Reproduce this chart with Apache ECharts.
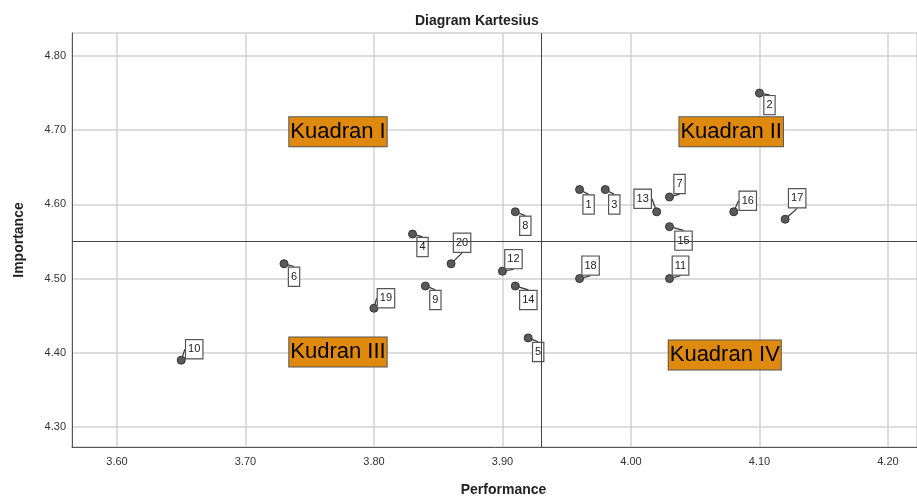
<!DOCTYPE html>
<html>
<head>
<meta charset="utf-8">
<script src="https://cdn.jsdelivr.net/npm/echarts@6/dist/echarts.min.js"></script>
<style>
  html, body { margin: 0; padding: 0; background: #fff; }
  #chart { width: 917px; height: 496px; }
</style>
</head>
<body>
<div id="chart"></div>
<script>
// data
var ids = ['1','2','3','4','5','6','7','8','9','10','11','12','13','14','15','16','17','18','19','20'];
var performance = [3.96, 4.10, 3.98, 3.83, 3.92, 3.73, 4.03, 3.91, 3.84, 3.65, 4.03, 3.90, 4.02, 3.91, 4.03, 4.08, 4.12, 3.96, 3.80, 3.86];
var importance  = [4.62, 4.75, 4.62, 4.56, 4.42, 4.52, 4.61, 4.59, 4.49, 4.39, 4.50, 4.51, 4.59, 4.49, 4.57, 4.59, 4.58, 4.50, 4.46, 4.52];
var meanPerformance = 3.933;
var meanImportance = 4.5465;

var quadrantNames = ['Kuadran I', 'Kuadran II', 'Kudran III', 'Kuadran IV'];
var quadrantX = [3.772, 4.078, 3.772, 4.073];
var quadrantY = [4.698, 4.698, 4.401, 4.397];

// where each number box sits relative to its point (px)
var labelShift = [
  [9,15],[10,12],[9,15],[10,13],[10,14],[10,13],[10,-13],[10,14],[10,14],[13,-11],
  [11,-13],[11,-12],[-14,-13],[13,14],[14,14],[14,-11],[12,-21],[11,-13],[12,-10],[11,-21]
];

var points = ids.map(function (id, i) {
  return { name: id, value: [performance[i], importance[i]] };
});
var quadrants = quadrantNames.map(function (n, i) {
  return { name: n, value: [quadrantX[i], quadrantY[i]] };
});

var fmt = function (v) { return v.toFixed(2); };
var font = 'Arial, "Liberation Sans", sans-serif';

var option = {
  animation: false,
  title: {
    text: 'Diagram Kartesius',
    left: 410,
    top: 9,
    textStyle: { fontFamily: font, fontSize: 14, fontWeight: 'bold', color: '#222' }
  },
  grid: { left: 72, right: 0, top: 33, bottom: 49, containLabel: false, outerBoundsMode: 'none' },
  xAxis: {
    type: 'value',
    min: 3.565,
    max: 4.2226,
    splitNumber: 5,
    name: 'Performance',
    nameLocation: 'middle',
    nameGap: 36,
    nameTextStyle: { fontFamily: font, fontSize: 14, fontWeight: 'bold', color: '#222', padding: [0, 0, 0, 18] },
    axisLine: { show: true, onZero: false, lineStyle: { color: '#555', width: 1 } },
    axisTick: { show: false },
    axisLabel: { formatter: fmt, fontFamily: font, fontSize: 11, color: '#333', margin: 9, showMinLabel: false, showMaxLabel: false },
    splitLine: { show: true, lineStyle: { color: '#d2d2d2', width: 1.5 } }
  },
  yAxis: {
    type: 'value',
    min: 4.273,
    max: 4.831,
    splitNumber: 5,
    name: 'Importance',
    nameLocation: 'middle',
    nameGap: 46,
    nameTextStyle: { fontFamily: font, fontSize: 14, fontWeight: 'bold', color: '#222' },
    axisLine: { show: true, onZero: false, lineStyle: { color: '#555', width: 1 } },
    axisTick: { show: false },
    axisLabel: { formatter: fmt, fontFamily: font, fontSize: 11, color: '#333', margin: 6, showMinLabel: false, showMaxLabel: false },
    splitLine: { show: true, lineStyle: { color: '#d2d2d2', width: 1.5 } }
  },
  series: [
    {
      type: 'scatter',
      data: points,
      symbolSize: 8,
      itemStyle: { color: '#5a5a5a', borderColor: '#333', borderWidth: 1, opacity: 1 },
      label: {
        show: true,
        position: 'inside',
        formatter: '{b}',
        fontFamily: font,
        fontSize: 11,
        color: '#222',
        backgroundColor: '#fff',
        borderColor: '#555',
        borderWidth: 1.2,
        padding: [4, 2, 3, 2]
      },
      labelLine: { show: true, lineStyle: { color: '#333', width: 1.2 } },
      labelLayout: function (p) {
        var s = labelShift[p.dataIndex];
        return { dx: s[0], dy: s[1] };
      },
      markLine: {
        silent: true,
        symbol: 'none',
        label: { show: false },
        lineStyle: { color: '#444', width: 1, type: 'solid' },
        data: [{ xAxis: meanPerformance }, { yAxis: meanImportance }]
      },
      z: 3
    },
    {
      type: 'scatter',
      data: quadrants,
      symbolSize: 0,
      silent: true,
      itemStyle: { opacity: 1 },
      label: {
        show: true,
        position: 'inside',
        formatter: '{b}',
        fontFamily: font,
        fontSize: 22,
        lineHeight: 26,
        color: '#000',
        backgroundColor: '#e0890f',
        borderColor: '#555',
        borderWidth: 1,
        padding: [2, 1, 1, 1]
      },
      z: 4
    }
  ]
};

var myChart = echarts.init(document.getElementById('chart'));
myChart.setOption(option);
</script>
</body>
</html>
